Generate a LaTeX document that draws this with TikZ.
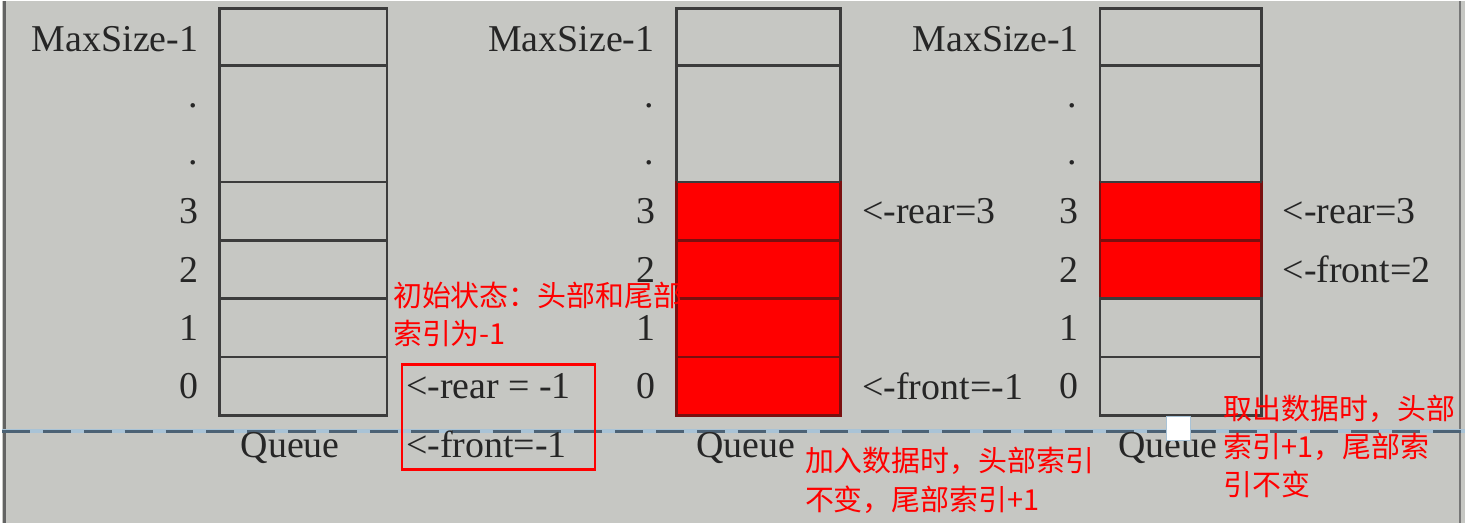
\documentclass[tikz,border=0pt]{standalone}
\usepackage{fontspec}
\setmainfont{Liberation Serif}
\newfontfamily\cjk{Noto Sans CJK SC}
\usetikzlibrary{positioning,fit}
\definecolor{paper}{HTML}{C6C7C3}
\definecolor{gridline}{HTML}{3C3C3C}
\definecolor{cellred}{HTML}{FF0000}
\definecolor{redline}{HTML}{7A0F0F}
\definecolor{ink}{HTML}{262626}
\definecolor{dashink}{HTML}{4C6275}
\definecolor{dashglow}{HTML}{A9C3D6}

\begin{document}
\begin{tikzpicture}[
  x=1pt, y=-1pt,
  font=\fontsize{38}{42}\selectfont,
  cell/.style={draw=gridline, line width=2.8pt, minimum width=#1, minimum height=58.5pt, inner sep=0pt, outer sep=0pt},
  cell/.default=163pt,
  full/.style={fill=cellred, draw=redline},
  idx/.style={text=ink, inner sep=0pt},
  ptr/.style={text=ink, inner sep=0pt},
  qname/.style={text=ink, inner sep=0pt, xshift=-13pt},
  note/.style={text=red, font=\cjk\fontsize{29}{38.5}\selectfont, align=left, anchor=north west, inner sep=0pt},
  redbox/.style={draw=red, line width=2.8pt, inner sep=0pt},
]
\fill[paper] (0,0) rectangle (1467,523);
\draw[gridline!80, line width=3pt] (3,0) -- (3,523);
\draw[gridline!70, line width=2pt] (1462,0) -- (1462,523);
\draw[dashglow, line width=4pt] (0,431) -- (1467,431);
\draw[dashink, line width=2.6pt, dash pattern=on 28pt off 13pt] (0,431) -- (1467,431);

\node[cell=168pt, minimum height=57pt] (q1top) at (302,35.5) {};
\node[cell=168pt, minimum height=117pt, below=0pt of q1top] (q1dots) {};
\node[cell=168pt, below=0pt of q1dots] (q1r3) {};
\node[cell=168pt, below=0pt of q1r3] (q1r2) {};
\node[cell=168pt, below=0pt of q1r2] (q1r1) {};
\node[cell=168pt, below=0pt of q1r1] (q1r0) {};
\node[idx, left=21pt of q1top, yshift=-2pt] {MaxSize-1};
\node[idx, left=21pt of q1dots, yshift=17.5pt] {.};
\node[idx, left=21pt of q1dots, yshift=-39.5pt] {.};
\node[idx, left=21pt of q1r3] {3};
\node[idx, left=21pt of q1r2] {2};
\node[idx, left=21pt of q1r1] {1};
\node[idx, left=21pt of q1r0] {0};
\node[qname, below=17pt of q1r0] (queue1) {Queue};
\node[ptr, right=19pt of q1r0] (rear1) {<-rear = -1};
\node[ptr, anchor=base west] (front1) at (rear1.west |- queue1.base) {<-front=-1};
\node[redbox, fit=(rear1)(front1), inner xsep=14pt, inner ysep=10pt, xshift=10pt, yshift=-1pt] (box1) {};

\node[cell=164pt, minimum height=57pt] (q2top) at (758.5,35.5) {};
\node[cell=164pt, minimum height=117pt, below=0pt of q2top] (q2dots) {};
\node[cell=164pt, full, below=0pt of q2dots] (q2r3) {};
\node[cell=164pt, full, below=0pt of q2r3] (q2r2) {};
\node[cell=164pt, full, below=0pt of q2r2] (q2r1) {};
\node[cell=164pt, full, below=0pt of q2r1] (q2r0) {};
\draw[gridline, line width=2.8pt] (q2dots.south west) -- (q2dots.south east);
\node[idx, left=22pt of q2top, yshift=-2pt] {MaxSize-1};
\node[idx, left=23pt of q2dots, yshift=17.5pt] {.};
\node[idx, left=23pt of q2dots, yshift=-39.5pt] {.};
\node[idx, left=21pt of q2r3] {3};
\node[idx, left=21pt of q2r2] {2};
\node[idx, left=21pt of q2r1] {1};
\node[idx, left=21pt of q2r0] {0};
\node[qname, below=17pt of q2r0] (queue2) {Queue};
\node[ptr, right=22pt of q2r3] (rear2) {<-rear=3};
\node[ptr, right=22pt of q2r0] (front2) {<-front=-1};

\node[cell=162pt, minimum height=57pt] (q3top) at (1182,35.5) {};
\node[cell=162pt, minimum height=117pt, below=0pt of q3top] (q3dots) {};
\node[cell=162pt, full, below=0pt of q3dots] (q3r3) {};
\node[cell=162pt, full, below=0pt of q3r3] (q3r2) {};
\node[cell=162pt, below=0pt of q3r2] (q3r1) {};
\node[cell=162pt, below=0pt of q3r1] (q3r0) {};
\draw[gridline, line width=2.8pt] (q3dots.south west) -- (q3dots.south east);
\node[idx, left=21pt of q3top, yshift=-2pt] {MaxSize-1};
\node[idx, left=23pt of q3dots, yshift=17.5pt] {.};
\node[idx, left=23pt of q3dots, yshift=-39.5pt] {.};
\node[idx, left=21pt of q3r3] {3};
\node[idx, left=21pt of q3r2] {2};
\node[idx, left=21pt of q3r1] {1};
\node[idx, left=21pt of q3r0] {0};
\node[qname, below=17pt of q3r0] (queue3) {Queue};
\node[ptr, right=21pt of q3r3] (rear3) {<-rear=3};
\node[ptr, right=21pt of q3r2] (front3) {<-front=2};
\node[draw=dashglow, fill=white, line width=1.5pt, minimum size=24pt, inner sep=0pt] (mark) at (1179.5,428) {};

\node[note] (note1) at (392,281) {初始状态：头部和尾部\\索引为-1};
\node[note] (note2) at (805,447) {加入数据时，头部索引\\不变，尾部索引+1};
\node[note] (note3) at (1225,394) {取出数据时，头部\\索引+1，尾部索\\引不变};
\end{tikzpicture}
\end{document}
